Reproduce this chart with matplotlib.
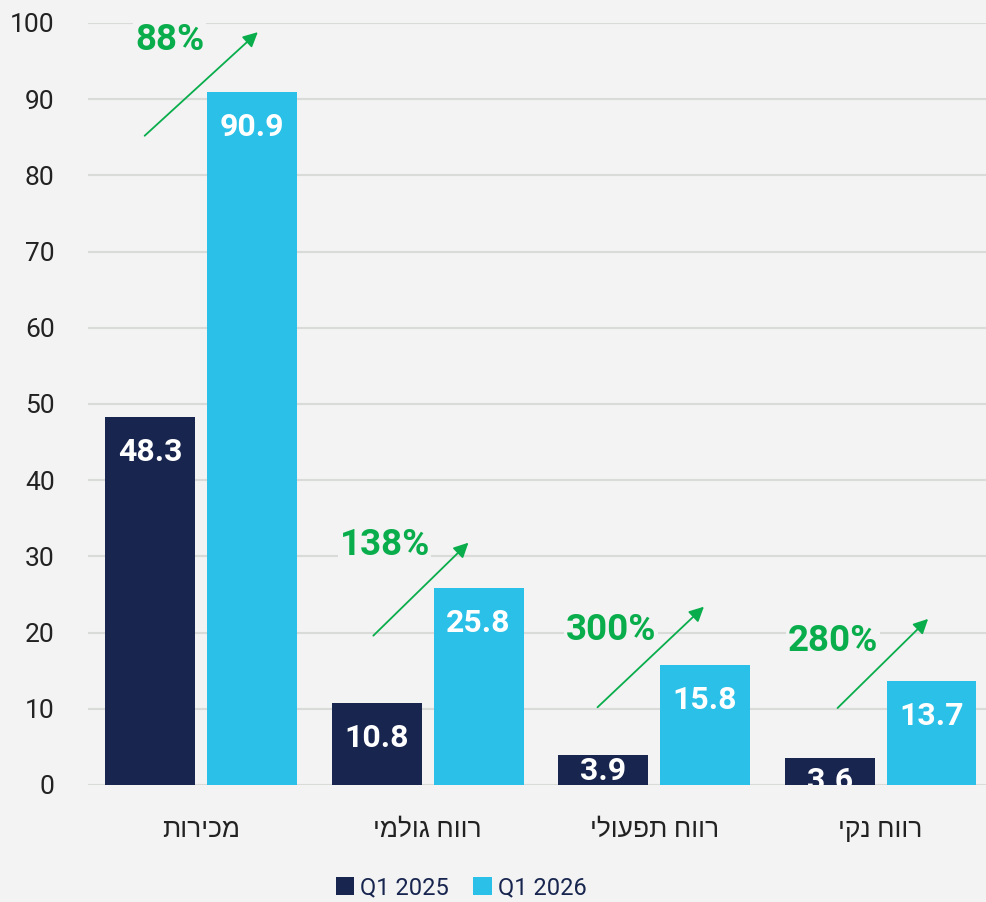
import matplotlib.pyplot as plt
import numpy as np

# data
categories = ["מכירות", "רווח גולמי", "רווח תפעולי", "רווח נקי"]
q1_2025 = [48.3, 10.8, 3.9, 3.6]
q1_2026 = [90.9, 25.8, 15.8, 13.7]
growth = ["88%", "138%", "300%", "280%"]

# arrow start / end (offset from category centre, value)
arrow_start = [(-0.25, 85.2), (-0.24, 19.6), (-0.25, 10.2), (-0.19, 10.1)]
arrow_end = [(0.25, 98.8), (0.18, 31.8), (0.22, 23.4), (0.21, 21.8)]
growth_pos = [(-0.14, 97.8), (-0.19, 31.5), (-0.19, 20.3), (-0.21, 18.9)]
# small bars: labels get pushed down (and clipped) in the original
small_label_y = {3.9: 1.85, 3.6: 0.5}

BG = "#f2f3f2"
DARK = "#18254f"
LIGHT = "#2ac0e8"
GREEN = "#0aad4c"
FONT = ["Roboto", "Liberation Sans", "DejaVu Sans"]

plt.rcParams["font.family"] = FONT

fig = plt.figure(figsize=(9.87, 9.02), dpi=100, facecolor=BG)
ax = fig.add_axes([88 / 987, 117 / 902, 899 / 987, 762 / 902])
ax.set_facecolor(BG)

x = np.arange(len(categories))
width = 0.397
off = 0.225
bars1 = ax.bar(x - off, q1_2025, width, color=DARK, zorder=2, label="Q1 2025")
bars2 = ax.bar(x + off, q1_2026, width, color=LIGHT, zorder=2, label="Q1 2026")

# value labels inside bar tops
for bars in (bars1, bars2):
    for b in bars:
        v = b.get_height()
        y = small_label_y.get(v, v - 4.6)
        ax.text(b.get_x() + b.get_width() / 2, y, f"{v:.1f}", ha="center", va="center",
                color="white", fontsize=23, fontweight="bold", zorder=3, clip_on=True)

# growth arrows and percentages
for i in range(len(categories)):
    sx, sy = arrow_start[i]
    ex, ey = arrow_end[i]
    ax.annotate("", xy=(i + ex, ey), xytext=(i + sx, sy),
                arrowprops=dict(arrowstyle="-|>", color=GREEN, lw=1.3, mutation_scale=22,
                                shrinkA=0, shrinkB=0), zorder=4)
    gx, gy = growth_pos[i]
    ax.text(i + gx, gy, growth[i], ha="center", va="center", color=GREEN, fontsize=26.5,
            fontweight="bold", zorder=3,
            bbox=dict(facecolor=BG, edgecolor="none", pad=1))

ax.set_xlim(-0.5, 3.47)
ax.set_ylim(0, 100)
ax.set_yticks(range(0, 101, 10))
ax.yaxis.grid(True, color="#d9dbd9", linewidth=1.5, zorder=0)
ax.set_axisbelow(True)
for s in ax.spines.values():
    s.set_visible(False)
ax.tick_params(axis="both", length=0)
ax.tick_params(axis="y", pad=24, labelsize=19, labelcolor="#222222")
ax.set_xticks(x)
ax.set_xticklabels([c[::-1] for c in categories], fontsize=19, color="#222222")
ax.tick_params(axis="x", pad=24)

fig.legend(handles=[bars1, bars2], labels=["Q1 2025", "Q1 2026"], loc="center",
           bbox_to_anchor=(461 / 987, 1 - 888 / 902), ncol=2, frameon=False,
           fontsize=17, handlelength=0.8, handleheight=0.8, handletextpad=0.25,
           columnspacing=1.0, labelcolor=DARK)

fig.savefig("out.png", dpi=100, facecolor=BG)
